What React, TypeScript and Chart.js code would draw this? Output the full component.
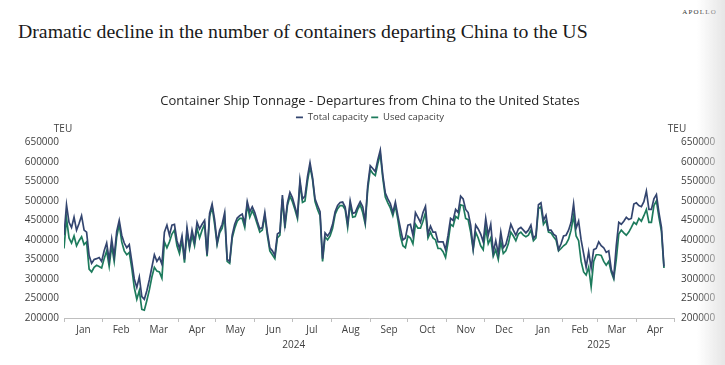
import React, { useEffect, useRef } from "react";
import { Chart, registerables } from "chart.js";

Chart.register(...registerables);

// ---- data (TEU), one value every 2 days starting 1 Jan 2024 ----
const START_UTC = Date.UTC(2024, 0, 1);
const STEP_DAYS = 2;

const totalCapacity = [
  412000, 490000, 445000, 432000, 458000, 425000, 442000, 462000, 425000, 420000,
  360000, 340000, 350000, 352000, 355000, 345000, 372000, 392000, 348000, 402000,
  358000, 422000, 450000, 412000, 392000, 380000, 388000, 345000, 300000, 278000,
  305000, 255000, 248000, 270000, 298000, 330000, 362000, 345000, 355000, 338000,
  420000, 438000, 412000, 438000, 440000, 398000, 378000, 410000, 350000, 432000,
  385000, 425000, 395000, 445000, 428000, 440000, 450000, 362000, 468000, 492000,
  452000, 392000, 425000, 440000, 470000, 350000, 345000, 412000, 440000, 456000,
  462000, 466000, 442000, 498000, 472000, 485000, 470000, 448000, 428000, 432000,
  470000, 420000, 380000, 372000, 360000, 415000, 420000, 515000, 440000, 495000,
  522000, 508000, 485000, 462000, 553000, 505000, 512000, 562000, 598000, 560000,
  505000, 488000, 472000, 352000, 418000, 410000, 420000, 440000, 472000, 488000,
  496000, 497000, 484000, 442000, 500000, 468000, 470000, 485000, 498000, 485000,
  448000, 540000, 590000, 583000, 575000, 605000, 630000, 566000, 520000, 505000,
  493000, 470000, 497000, 462000, 430000, 400000, 405000, 438000, 440000, 412000,
  470000, 458000, 445000, 470000, 486000, 415000, 435000, 420000, 420000, 395000,
  395000, 395000, 375000, 412000, 455000, 450000, 478000, 470000, 512000, 505000,
  478000, 470000, 438000, 378000, 438000, 428000, 415000, 395000, 455000, 412000,
  440000, 368000, 398000, 365000, 420000, 380000, 388000, 412000, 440000, 425000,
  412000, 428000, 432000, 425000, 418000, 425000, 438000, 404000, 412000, 490000,
  495000, 450000, 463000, 425000, 425000, 415000, 410000, 375000, 390000, 410000,
  412000, 425000, 445000, 492000, 430000, 448000, 400000, 365000, 330000, 370000,
  328000, 375000, 378000, 395000, 385000, 380000, 368000, 372000, 325000, 305000,
  385000, 445000, 440000, 448000, 458000, 452000, 455000, 492000, 495000, 488000,
  485000, 498000, 525000, 478000, 478000, 505000, 516000, 470000, 432000, 332000,
];

const usedCapacity = [
  378000, 455000, 405000, 392000, 410000, 385000, 398000, 408000, 388000, 395000,
  325000, 318000, 330000, 335000, 332000, 328000, 352000, 372000, 332000, 385000,
  345000, 408000, 440000, 395000, 372000, 362000, 368000, 328000, 278000, 248000,
  270000, 222000, 220000, 245000, 272000, 305000, 330000, 320000, 318000, 302000,
  395000, 380000, 395000, 415000, 425000, 385000, 365000, 400000, 342000, 420000,
  378000, 412000, 385000, 430000, 405000, 425000, 440000, 358000, 460000, 485000,
  440000, 388000, 418000, 430000, 460000, 345000, 340000, 405000, 430000, 448000,
  455000, 455000, 432000, 490000, 458000, 475000, 460000, 440000, 420000, 425000,
  462000, 412000, 372000, 362000, 352000, 405000, 412000, 505000, 430000, 488000,
  512000, 498000, 478000, 455000, 545000, 496000, 500000, 550000, 588000, 555000,
  498000, 478000, 462000, 345000, 408000, 400000, 410000, 430000, 465000, 480000,
  488000, 488000, 478000, 432000, 492000, 458000, 460000, 478000, 490000, 470000,
  440000, 530000, 580000, 570000, 565000, 595000, 620000, 558000, 510000, 495000,
  482000, 462000, 488000, 452000, 410000, 385000, 380000, 410000, 405000, 390000,
  440000, 430000, 430000, 448000, 470000, 405000, 420000, 405000, 400000, 378000,
  378000, 370000, 355000, 395000, 440000, 435000, 460000, 455000, 490000, 488000,
  455000, 452000, 420000, 375000, 420000, 405000, 385000, 375000, 430000, 390000,
  405000, 358000, 375000, 350000, 395000, 365000, 372000, 390000, 420000, 410000,
  398000, 415000, 420000, 412000, 408000, 412000, 425000, 398000, 405000, 480000,
  485000, 440000, 450000, 420000, 418000, 408000, 400000, 372000, 378000, 385000,
  390000, 402000, 425000, 462000, 410000, 398000, 345000, 318000, 310000, 330000,
  280000, 345000, 362000, 362000, 360000, 345000, 335000, 345000, 318000, 300000,
  350000, 415000, 425000, 418000, 412000, 420000, 432000, 445000, 440000, 455000,
  448000, 462000, 478000, 445000, 445000, 488000, 500000, 458000, 422000, 328000,
];

const monthLabels = [
  "Jan", "Feb", "Mar", "Apr", "May", "Jun", "Jul", "Aug", "Sep", "Oct", "Nov", "Dec",
  "Jan", "Feb", "Mar", "Apr",
];
const yearLabels = ["2024", "2025"];
const yMin = 200000;
const yMax = 650000;
const yStep = 50000;

// ---- derived helpers ----
const DAY = 86400000;
const dayOf = (y: number, m: number) => Math.round((Date.UTC(y, m, 1) - START_UTC) / DAY);
const monthStarts = Array.from({ length: monthLabels.length + 1 }, (_, i) => dayOf(2024, i));
const monthMids = monthLabels.map((_, i) => (monthStarts[i] + monthStarts[i + 1]) / 2);
const xMax = monthStarts[monthStarts.length - 1];
const yearBounds = [0, dayOf(2025, 0), xMax];
const yearMids = yearLabels.map((_, i) => (yearBounds[i] + yearBounds[i + 1]) / 2);
const dayIndex = totalCapacity.map((_, i) => i * STEP_DAYS);

const NAVY = "#33456f";
const GREEN = "#1d7b5c";
const TEXT = "#404040";
const FONT = "'Open Sans', 'Noto Sans', sans-serif";

const W = 725;
const H = 365;
const PAD_L = 15;
const PAD_R = 0;
const AREA_L = 64;
const AREA_R = 674;

const plainNumber = (v: any) => String(v);

export default function App() {
  const ref = useRef<HTMLCanvasElement | null>(null);

  useEffect(() => {
    if (!ref.current) return;
    const tickFont = { family: FONT, size: 10 };
    const chart = new Chart(ref.current, {
      type: "line",
      data: {
        datasets: [
          {
            label: "Total capacity",
            data: dayIndex.map((d, i) => ({ x: d, y: totalCapacity[i] })),
            borderColor: NAVY,
            backgroundColor: NAVY,
            borderWidth: 1.7,
            pointRadius: 0,
            tension: 0,
            xAxisID: "x",
            yAxisID: "y",
          },
          {
            label: "Used capacity",
            data: dayIndex.map((d, i) => ({ x: d, y: usedCapacity[i] })),
            borderColor: GREEN,
            backgroundColor: GREEN,
            borderWidth: 1.7,
            pointRadius: 0,
            tension: 0,
            xAxisID: "x",
            yAxisID: "y",
          },
        ],
      },
      options: {
        responsive: false,
        animation: false,
        events: [],
        layout: { padding: { top: 93, left: PAD_L, right: PAD_R, bottom: 13 } },
        plugins: {
          title: {
            display: true,
            text: "Container Ship Tonnage - Departures from China to the United States",
            font: { family: FONT, size: 13, weight: "normal" },
            color: "#262626",
            padding: { top: 0.5, bottom: 0.5 },
            weight: 2000,
          } as any,
          legend: {
            display: true,
            position: "top",
            weight: 1800,
            labels: {
              usePointStyle: true,
              pointStyle: "line",
              pointStyleWidth: 7,
              boxWidth: 7,
              padding: 3,
              font: { family: FONT, size: 9.5 },
              color: TEXT,
            },
          } as any,
          subtitle: {
            display: true,
            text: "",
            font: { family: FONT, size: 8.5 },
            padding: { top: 0, bottom: 0 },
            weight: 1500,
          } as any,
          tooltip: { enabled: false },
        },
        scales: {
          x: {
            type: "linear",
            position: "bottom",
            min: 0,
            max: xMax,
            weight: 0,
            grid: { display: true, drawOnChartArea: false, drawTicks: true, tickLength: 4, color: "#bfbfbf" },
            border: { display: true, color: "#bfbfbf" },
            ticks: { display: false },
            afterBuildTicks: (s: any) => {
              s.ticks = monthStarts.map((v) => ({ value: v }));
            },
            afterFit: (s: any) => {
              s.height = 4;
            },
          },
          xMonths: {
            type: "linear",
            position: "bottom",
            min: 0,
            max: xMax,
            weight: 1,
            grid: { display: false, drawTicks: false },
            border: { display: false },
            ticks: {
              autoSkip: false,
              maxRotation: 0,
              padding: 2,
              font: tickFont,
              color: TEXT,
              callback: (_v: any, i: number) => monthLabels[i],
            },
            afterBuildTicks: (s: any) => {
              s.ticks = monthMids.map((v) => ({ value: v }));
            },
            afterFit: (s: any) => {
              s.height = 16;
            },
          },
          xYears: {
            type: "linear",
            position: "bottom",
            min: 0,
            max: xMax,
            weight: 2,
            grid: { display: false, drawTicks: false },
            border: { display: false },
            ticks: {
              autoSkip: false,
              maxRotation: 0,
              padding: 1,
              font: tickFont,
              color: TEXT,
              callback: (_v: any, i: number) => yearLabels[i],
            },
            afterBuildTicks: (s: any) => {
              s.ticks = yearMids.map((v) => ({ value: v }));
            },
            afterFit: (s: any) => {
              s.height = 14;
            },
          },
          y: {
            type: "linear",
            position: "left",
            min: yMin,
            max: yMax,
            grid: { display: false, drawTicks: false },
            border: { display: false },
            ticks: { stepSize: yStep, padding: 5, font: tickFont, color: TEXT, callback: plainNumber },
            afterFit: (s: any) => {
              s.width = AREA_L - PAD_L;
            },
          },
          y2: {
            type: "linear",
            position: "right",
            display: true,
            min: yMin,
            max: yMax,
            grid: { display: false, drawTicks: false },
            border: { display: false },
            ticks: { stepSize: yStep, padding: 7, font: tickFont, color: TEXT, callback: plainNumber },
            afterFit: (s: any) => {
              s.width = W - PAD_R - AREA_R;
            },
          },
        } as any,
      },
    });
    return () => chart.destroy();
  }, []);

  return (
    <div
      style={{
        position: "fixed",
        left: 0,
        top: 0,
        width: W,
        height: H,
        background: "#ffffff",
        overflow: "hidden",
      }}
    >
      <div
        style={{
          position: "absolute",
          right: 8,
          top: 8,
          fontFamily: "'Liberation Serif', serif",
          fontSize: 7,
          letterSpacing: 1.2,
          color: "#333",
        }}
      >
        APOLLO
      </div>
      <div
        style={{
          position: "absolute",
          left: 18,
          top: 20,
          fontFamily: "'Liberation Serif', serif",
          fontSize: 19.8,
          color: "#1a1a1a",
          whiteSpace: "nowrap",
        }}
      >
        Dramatic decline in the number of containers departing China to the US
      </div>
      <canvas ref={ref} width={W} height={H} style={{ position: "absolute", left: 0, top: 0, display: "block" }} />
      <div
        style={{
          position: "absolute",
          left: 53,
          top: 121,
          width: 20,
          textAlign: "center",
          fontFamily: FONT,
          fontSize: 10,
          color: TEXT,
        }}
      >
        TEU
      </div>
      <div
        style={{
          position: "absolute",
          left: 667,
          top: 121,
          width: 20,
          textAlign: "center",
          fontFamily: FONT,
          fontSize: 10,
          color: TEXT,
        }}
      >
        TEU
      </div>
      <div
        style={{
          position: "absolute",
          right: 0,
          top: 0,
          width: 28,
          height: H,
          background: "linear-gradient(to right, rgba(225,225,225,0), rgba(225,225,225,0.85))",
          pointerEvents: "none",
        }}
      />
    </div>
  );
}
